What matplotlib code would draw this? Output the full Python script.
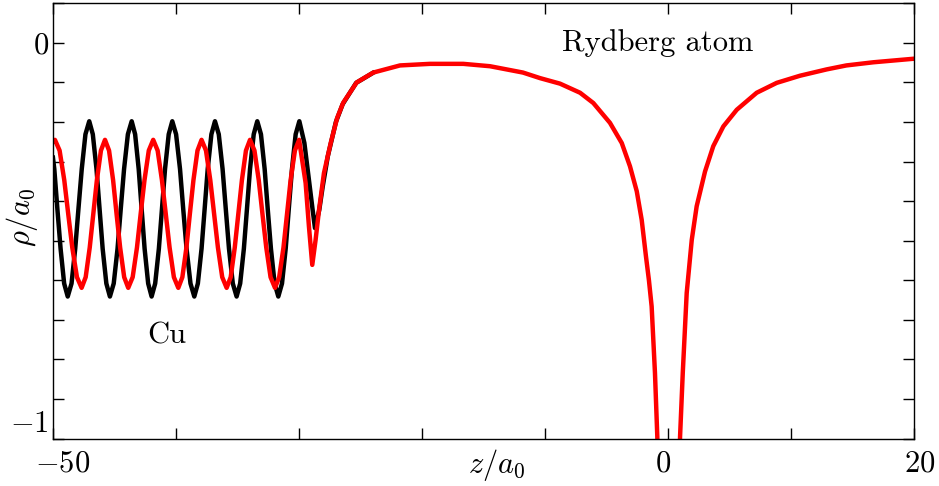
import numpy as np
import matplotlib
matplotlib.use('Agg')
import matplotlib.pyplot as plt
import matplotlib.transforms as mtransforms

plt.rcParams['mathtext.fontset'] = 'cm'
plt.rcParams['font.family'] = ['cmr10', 'DejaVu Serif']
plt.rcParams['axes.formatter.use_mathtext'] = True

# Cu surface (black)
cu_z = [-50.0,
        -49.89, -49.64, -49.38, -49.09, -48.8,
        -48.49, -48.19, -47.93, -47.66, -47.36, -47.05,
        -46.76, -46.46, -46.21, -45.96, -45.66, -45.37,
        -45.06, -44.75, -44.49, -44.22, -43.91, -43.6,
        -43.32, -43.03, -42.79, -42.55, -42.26, -41.98,
        -41.69, -41.39, -41.14, -40.89, -40.59, -40.3,
        -39.99, -39.67, -39.41, -39.14, -38.82, -38.51,
        -38.22, -37.92, -37.67, -37.42, -37.12, -36.83,
        -36.52, -36.21, -35.95, -35.69, -35.38, -35.07,
        -34.78, -34.48, -34.23, -33.98, -33.68, -33.39,
        -33.09, -32.79, -32.54, -32.28, -31.98, -31.68,
        -31.38, -31.08, -30.83, -30.57, -30.27, -29.97,
        -29.56, -29.16, -28.89, -28.7, -28.35, -28.07, -27.66, -27.0, -26.45, -25.35, -24.0]
cu_rho = [-0.29,
          -0.319, -0.42, -0.52, -0.608, -0.641,
          -0.608, -0.52, -0.42, -0.319, -0.231, -0.198,
          -0.231, -0.319, -0.42, -0.52, -0.608, -0.641,
          -0.608, -0.52, -0.42, -0.319, -0.231, -0.198,
          -0.231, -0.319, -0.42, -0.52, -0.608, -0.641,
          -0.608, -0.52, -0.42, -0.319, -0.231, -0.198,
          -0.231, -0.319, -0.42, -0.52, -0.608, -0.641,
          -0.608, -0.52, -0.42, -0.319, -0.231, -0.198,
          -0.231, -0.319, -0.42, -0.52, -0.608, -0.641,
          -0.608, -0.52, -0.42, -0.319, -0.231, -0.198,
          -0.231, -0.319, -0.42, -0.52, -0.608, -0.641,
          -0.608, -0.52, -0.42, -0.319, -0.231, -0.198,
          -0.253, -0.354, -0.422, -0.468, -0.422, -0.363, -0.287, -0.200, -0.155, -0.101, -0.076]

# Rydberg atom (red)
ryd_z = [-50.0, -49.84,
         -49.46, -49.08, -48.76, -48.43, -48.05, -47.67,
         -47.34, -47.01, -46.72, -46.43, -46.10, -45.77,
         -45.44, -45.11, -44.83, -44.54, -44.21, -43.88,
         -43.52, -43.17, -42.87, -42.56, -42.21, -41.85,
         -41.49, -41.14, -40.83, -40.52, -40.17, -39.81,
         -39.48, -39.15, -38.87, -38.58, -38.25, -37.92,
         -37.56, -37.21, -36.9, -36.59, -36.24, -35.88,
         -35.55, -35.22, -34.93, -34.64, -34.31, -33.98,
         -33.62, -33.27, -32.97, -32.66, -32.31, -31.95,
         -31.61, -31.26, -30.97, -30.68, -30.33, -29.99,
         -29.46, -29.19, -28.92, -28.65, -28.37, -27.97, -27.42, -26.9, -26.4, -25.31,
         -23.96, -21.79, -19.35, -16.64, -14.47, -11.79, -10.41, -8.78, -7.15, -6.07,
         -4.72, -3.76, -3.09, -2.54, -2.14, -1.79, -1.55, -1.33, -1.06, -0.87,
         -0.8, 0.9, 0.98, 1.2, 1.52, 1.93, 2.33, 3.01, 3.68, 4.50,
         5.59, 7.21, 8.84, 10.73, 12.90, 14.5, 16.7, 20.0]
ryd_rho = [-0.25, -0.245,
           -0.272, -0.347, -0.432, -0.517, -0.592, -0.619,
           -0.592, -0.517, -0.432, -0.347, -0.272, -0.245,
           -0.272, -0.347, -0.432, -0.517, -0.592, -0.619,
           -0.592, -0.517, -0.432, -0.347, -0.272, -0.245,
           -0.272, -0.347, -0.432, -0.517, -0.592, -0.619,
           -0.592, -0.517, -0.432, -0.347, -0.272, -0.245,
           -0.272, -0.347, -0.432, -0.517, -0.592, -0.619,
           -0.592, -0.517, -0.432, -0.347, -0.272, -0.245,
           -0.272, -0.347, -0.432, -0.517, -0.592, -0.619,
           -0.592, -0.517, -0.432, -0.347, -0.272, -0.245,
           -0.354, -0.464, -0.561, -0.498, -0.422, -0.329, -0.253, -0.19, -0.151, -0.100,
           -0.075, -0.057, -0.053, -0.053, -0.059, -0.075, -0.089, -0.103, -0.126, -0.152,
           -0.202, -0.253, -0.312, -0.375, -0.447, -0.540, -0.60, -0.666, -0.834, -0.995,
           -1.1, -1.1, -0.995, -0.834, -0.632, -0.498, -0.413, -0.325, -0.261, -0.211,
           -0.169, -0.126, -0.101, -0.083, -0.067, -0.057, -0.049, -0.040]

fig = plt.figure(figsize=(9.39, 4.86), dpi=100)
ax = fig.add_axes([0.0564, 0.0975, 0.917, 0.8957])

ax.plot(cu_z, cu_rho, color='black', lw=3.2, solid_joinstyle='round')
ax.plot(ryd_z, ryd_rho, color='red', lw=3.2, solid_joinstyle='round')

ax.set_xlim(-50, 20)
ax.set_ylim(-1, 0.1)

xt = np.arange(-50, 21, 10)
ax.set_xticks(xt)
ax.set_xticklabels([r'$-50$', '', '', '', '', r'$0$', '', r'$20$'])
yt = np.round(np.arange(-1.0, 0.101, 0.1), 1)
ax.set_yticks(yt)
ax.set_yticklabels([r'$-1$' if v == -1 else (r'$0$' if v == 0 else '') for v in yt])

ax.tick_params(direction='in', length=8, width=1, top=True, right=True,
               labelsize=22)
ax.tick_params(axis='x', pad=8)
ax.tick_params(axis='y', pad=3)
for s in ax.spines.values():
    s.set_linewidth(1.0)

# small shifts of some tick labels as in the original
offs = {r'$-50$': (10, 0), r'$0$': (-5, 0), r'$20$': (6, 0)}
for lab in ax.get_xticklabels():
    dx, dy = offs.get(lab.get_text(), (0, 0))
    lab.set_transform(lab.get_transform() + mtransforms.ScaledTranslation(dx / 100, dy / 100, fig.dpi_scale_trans))
for lab in ax.get_yticklabels():
    if lab.get_text() == r'$-1$':
        lab.set_transform(lab.get_transform() + mtransforms.ScaledTranslation(0, 17 / 100, fig.dpi_scale_trans))

ax.set_xlabel(r'$z/a_0$', fontsize=22, va='center', ha='center')
ax.xaxis.set_label_coords(0.5157, -0.061)
ax.set_ylabel(r'$\rho/a_0$', fontsize=22, va='center', ha='center')
ax.yaxis.set_label_coords(-0.0354, 0.509)

ax.text(0.591, 0.890, 'Rydberg atom', transform=ax.transAxes, fontsize=22,
        ha='left', va='baseline')
ax.text(0.110, 0.219, 'Cu', transform=ax.transAxes, fontsize=22,
        ha='left', va='baseline')

fig.savefig('out.png', dpi=100)
